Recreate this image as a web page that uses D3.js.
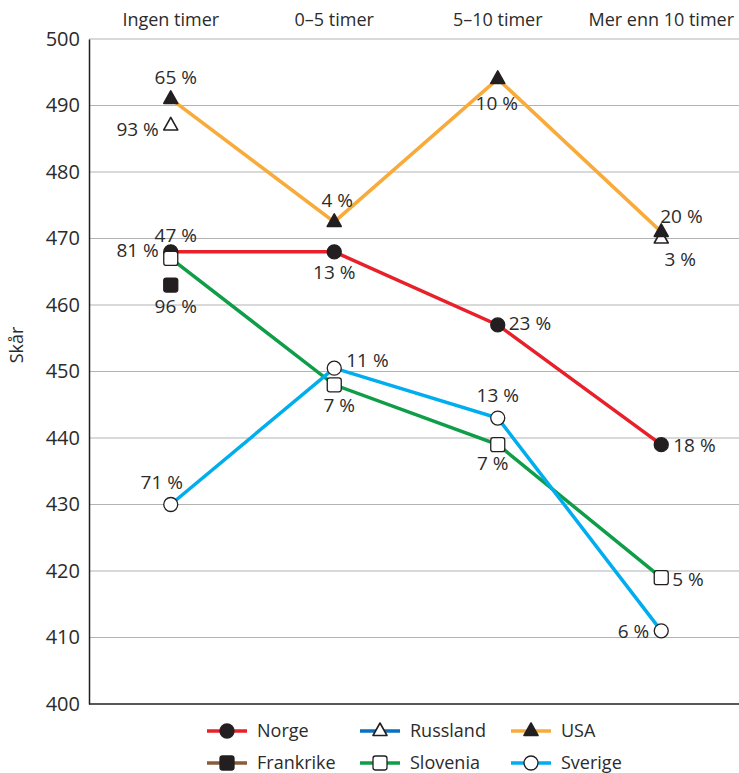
<!DOCTYPE html>
<html>
<head>
<meta charset="utf-8">
<script src="https://cdnjs.cloudflare.com/ajax/libs/d3/7.8.5/d3.min.js"></script>
<style>
  body { margin: 0; background: #fff; }
  svg { display: block; font-family: "Open Sans", sans-serif; }
  .grid line { stroke: #b3b3b3; stroke-width: 1.2; }
  text { fill: #2b2b2b; }
</style>
</head>
<body>
<svg width="739" height="773"></svg>
<script>
// categories and tick labels
var categories = ["Ingen timer", "0–5 timer", "5–10 timer", "Mer enn 10 timer"];
var yTicks = [400, 410, 420, 430, 440, 450, 460, 470, 480, 490, 500];

// series values (null = no value)
var norge     = [468, 468, 457, 439];
var russland  = [487, null, null, 470];
var usa       = [491, 472.5, 494, 471];
var frankrike = [463, null, null, null];
var slovenia  = [467, 448, 439, 419];
var sverige   = [430, 450.5, 443, 411];

// share labels
var norgeLab     = ["47 %", "13 %", "23 %", "18 %"];
var russlandLab  = ["93 %", null, null, "3 %"];
var usaLab       = ["65 %", "4 %", "10 %", "20 %"];
var frankrikeLab = ["96 %", null, null, null];
var sloveniaLab  = ["81 %", "7 %", "7 %", "5 %"];
var sverigeLab   = ["71 %", "11 %", "13 %", "6 %"];

// label placement (layout only): [dx, dy, anchor]
var place = {
  Norge:     [[5, -16, "middle"], [0, 21, "middle"], [11, -2, "start"], [12, 1, "start"]],
  Russland:  [[-12, 4, "end"], null, null, [19, 21, "middle"]],
  USA:       [[5, -22, "middle"], [3, -22, "middle"], [-1, 24, "middle"], [-1, -16, "start"]],
  Frankrike: [[5, 21, "middle"], null, null, null],
  Slovenia:  [[-12, -8, "end"], [5, 21, "middle"], [-5, 19, "middle"], [11, 2, "start"]],
  Sverige:   [[-9, -22, "middle"], [12, -8, "start"], [0, -23, "middle"], [-12, 0, "end"]]
};

var series = [
  {name: "Norge",     values: norge,     labels: norgeLab,     color: "#e8202a", marker: "circle",  fill: "#231f20", line: true},
  {name: "Russland",  values: russland,  labels: russlandLab,  color: "#0a6fbf", marker: "triangle", fill: "#fff",    line: false},
  {name: "USA",       values: usa,       labels: usaLab,       color: "#f8ab3b", marker: "triangle", fill: "#231f20", line: true},
  {name: "Frankrike", values: frankrike, labels: frankrikeLab, color: "#8a5c3a", marker: "square",  fill: "#231f20", line: false},
  {name: "Slovenia",  values: slovenia,  labels: sloveniaLab,  color: "#0f9d48", marker: "square",  fill: "#fff",    line: true},
  {name: "Sverige",   values: sverige,   labels: sverigeLab,   color: "#00adee", marker: "circle",  fill: "#fff",    line: true}
];

var svg = d3.select("svg");
var mLeft = 89, mTop = 39, mBottom = 704, mRight = 743;

var x = d3.scalePoint().domain(categories).range([mLeft, mRight]).padding(0.5);
var y = d3.scaleLinear().domain([400, 500]).range([mBottom, mTop]);

// gridlines
svg.append("g").attr("class", "grid")
  .selectAll("line").data(yTicks.filter(function(d) { return d > 400; }))
  .enter().append("line")
  .attr("x1", mLeft).attr("x2", mRight)
  .attr("y1", function(d) { return y(d); }).attr("y2", function(d) { return y(d); });

// y axis
var yAxis = svg.append("g")
  .attr("transform", "translate(" + mLeft + ",0)")
  .call(d3.axisLeft(y).tickValues(yTicks).tickSize(0).tickPadding(9));
yAxis.select(".domain").attr("stroke", "#231f20").attr("stroke-width", 1.5);
yAxis.selectAll("text").style("font-size", "20px").style("font-family", "'Open Sans', sans-serif").attr("fill", "#333");

// x axis at bottom (line only)
svg.append("line")
  .attr("x1", mLeft).attr("x2", mRight).attr("y1", mBottom).attr("y2", mBottom)
  .attr("stroke", "#231f20").attr("stroke-width", 1.5);

// category labels on top
svg.append("g").selectAll("text").data(categories).enter().append("text")
  .attr("x", function(d) { return x(d); })
  .attr("y", 20).attr("dy", "0.35em")
  .attr("text-anchor", "middle")
  .style("font-size", "18px")
  .text(function(d) { return d; });

// y title
svg.append("text")
  .attr("transform", "translate(17,345) rotate(-90)")
  .attr("text-anchor", "middle").attr("dy", "0.35em")
  .style("font-size", "18px")
  .text("Skår");

function drawMarker(g, type, fill, cx, cy) {
  if (type === "circle") {
    g.append("circle").attr("cx", cx).attr("cy", cy).attr("r", 7)
      .attr("fill", fill).attr("stroke", "#231f20").attr("stroke-width", 1.3);
  } else if (type === "square") {
    g.append("rect").attr("x", cx - 7).attr("y", cy - 7)
      .attr("width", 14).attr("height", 14).attr("rx", 2.5)
      .attr("fill", fill).attr("stroke", "#231f20").attr("stroke-width", 1.3);
  } else {
    g.append("path")
      .attr("d", "M0,-8L7,4.5L-7,4.5Z")
      .attr("transform", "translate(" + cx + "," + cy + ")")
      .attr("fill", fill).attr("stroke", "#231f20").attr("stroke-width", 1.6)
      .attr("stroke-linejoin", "round");
  }
}

var line = d3.line()
  .defined(function(d) { return d.v != null; })
  .x(function(d) { return x(d.c); })
  .y(function(d) { return y(d.v); });

// lines first
series.forEach(function(s) {
  if (!s.line) return;
  var pts = categories.map(function(c, i) { return {c: c, v: s.values[i]}; });
  svg.append("path").datum(pts)
    .attr("fill", "none").attr("stroke", s.color).attr("stroke-width", 3.5)
    .attr("d", line);
});

// markers and labels
var marks = svg.append("g");
var labs = svg.append("g");
series.forEach(function(s) {
  categories.forEach(function(c, i) {
    var v = s.values[i];
    if (v == null) return;
    var cx = x(c), cy = y(v);
    drawMarker(marks, s.marker, s.fill, cx, cy);
    var p = place[s.name][i];
    if (p && s.labels[i]) {
      labs.append("text")
        .attr("x", cx + p[0]).attr("y", cy + p[1]).attr("dy", "0.35em")
        .attr("text-anchor", p[2])
        .style("font-size", "19px")
        .text(s.labels[i]);
    }
  });
});

// legend
var legCols = [207, 360, 511];
var legRows = [731, 763];
series.forEach(function(s, i) {
  var lx = legCols[i % 3], ly = legRows[Math.floor(i / 3)];
  var g = svg.append("g");
  g.append("line").attr("x1", lx).attr("x2", lx + 40).attr("y1", ly).attr("y2", ly)
    .attr("stroke", s.color).attr("stroke-width", 3.5);
  drawMarker(g, s.marker, s.fill, lx + 20, ly);
  g.append("text").attr("x", lx + 50).attr("y", ly).attr("dy", "0.35em")
    .style("font-size", "18px").text(s.name);
});
</script>
</body>
</html>
